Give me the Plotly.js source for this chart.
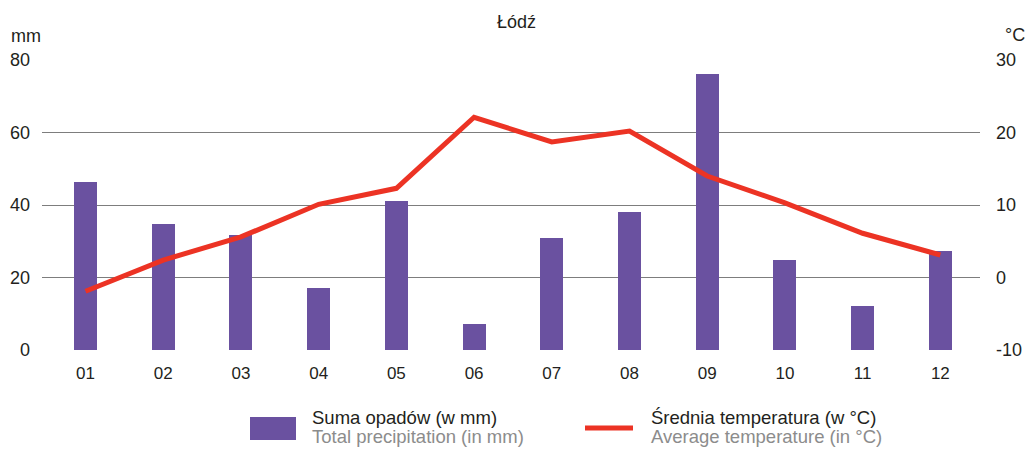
<!DOCTYPE html>
<html>
<head>
<meta charset="utf-8">
<script src="https://cdn.plot.ly/plotly-3.0.1.min.js"></script>
<style>
  body { margin: 0; background: #fff; }
  #chart { width: 1027px; height: 449px; }
</style>
</head>
<body>
<div id="chart"></div>
<script>
// monthly climate data, Łódź
var months = ['01', '02', '03', '04', '05', '06', '07', '08', '09', '10', '11', '12'];
var precip = [46.3, 34.8, 31.7, 17.1, 41.1, 7.2, 30.9, 38.1, 76.1, 24.8, 12.1, 27.3];
var temp = [-1.9, 2.4, 5.6, 10.1, 12.3, 22.1, 18.7, 20.2, 14.0, 10.3, 6.1, 3.1];
var leftTicks = [0, 20, 40, 60, 80];
var rightTicks = [-10, 0, 10, 20, 30];

var barColor = '#6a51a0';
var lineColor = '#ec3324';
var fontFam = 'Liberation Sans, Arial, sans-serif';

var data = [{
    x: months,
    y: precip,
    type: 'bar',
    width: 0.295,
    marker: { color: barColor },
    showlegend: false,
    hoverinfo: 'skip'
}, {
    x: months,
    y: temp,
    yaxis: 'y2',
    type: 'scatter',
    mode: 'lines',
    line: { color: lineColor, width: 5 },
    showlegend: false,
    hoverinfo: 'skip'
}];

// px -> paper helpers (plot area is x 42..980, y 60..350)
var px = function(v) { return (v - 42) / 938; };
var py = function(v) { return (350 - v) / 290; };

var layout = {
    width: 1027,
    height: 449,
    margin: { t: 60, b: 99, l: 42, r: 47 },
    paper_bgcolor: '#fff',
    plot_bgcolor: '#fff',
    font: { family: fontFam, size: 18, color: '#231f20' },
    showlegend: false,
    bargap: 0,
    xaxis: {
        type: 'category',
        range: [-0.56, 11.51],
        showgrid: false,
        zeroline: false,
        showline: false,
        ticks: '',
        tickfont: { size: 17 },
        ticklabelstandoff: 11
    },
    yaxis: {
        range: [0, 80],
        tickvals: leftTicks,
        ticktext: leftTicks.map(String),
        showgrid: true,
        gridcolor: '#7d7d7d',
        gridwidth: 1,
        zeroline: false,
        ticks: '',
        ticklabelstandoff: 11,
        tickfont: { size: 18 }
    },
    yaxis2: {
        range: [-10, 30],
        overlaying: 'y',
        side: 'right',
        tickvals: rightTicks,
        ticktext: rightTicks.map(String),
        showgrid: false,
        zeroline: false,
        ticks: '',
        ticklabelstandoff: 15,
        tickfont: { size: 18 }
    },
    shapes: [
        // hand-drawn legend keys
        { type: 'rect', xref: 'paper', yref: 'paper', x0: px(250), x1: px(296),
          y0: py(440), y1: py(417), fillcolor: barColor, line: { width: 0 } },
        { type: 'line', xref: 'paper', yref: 'paper', x0: px(585), x1: px(633),
          y0: py(428), y1: py(428), line: { color: lineColor, width: 5 } }
    ],
    annotations: [
        { text: 'Łódź', xref: 'paper', yref: 'paper', x: px(516), y: py(22),
          showarrow: false, xanchor: 'center', yanchor: 'middle', font: { size: 18 } },
        { text: 'mm', xref: 'paper', yref: 'paper', x: px(9), y: py(36),
          showarrow: false, xanchor: 'left', yanchor: 'middle', font: { size: 18 } },
        { text: '°C', xref: 'paper', yref: 'paper', x: px(1027), y: py(35),
          showarrow: false, xanchor: 'right', yanchor: 'middle', font: { size: 18 } },
        { text: 'Suma opadów (w mm)', xref: 'paper', yref: 'paper', x: px(310), y: py(417),
          showarrow: false, xanchor: 'left', yanchor: 'middle', font: { size: 18.5, color: '#231f20' } },
        { text: 'Total precipitation (in mm)', xref: 'paper', yref: 'paper', x: px(310), y: py(436),
          showarrow: false, xanchor: 'left', yanchor: 'middle', font: { size: 18.5, color: '#8c8c8c' } },
        { text: 'Średnia temperatura (w °C)', xref: 'paper', yref: 'paper', x: px(649), y: py(417),
          showarrow: false, xanchor: 'left', yanchor: 'middle', font: { size: 18.5, color: '#231f20' } },
        { text: 'Average temperature (in °C)', xref: 'paper', yref: 'paper', x: px(649), y: py(436),
          showarrow: false, xanchor: 'left', yanchor: 'middle', font: { size: 18.5, color: '#8c8c8c' } }
    ]
};

Plotly.newPlot('chart', data, layout, { displayModeBar: false, staticPlot: true });
</script>
</body>
</html>
